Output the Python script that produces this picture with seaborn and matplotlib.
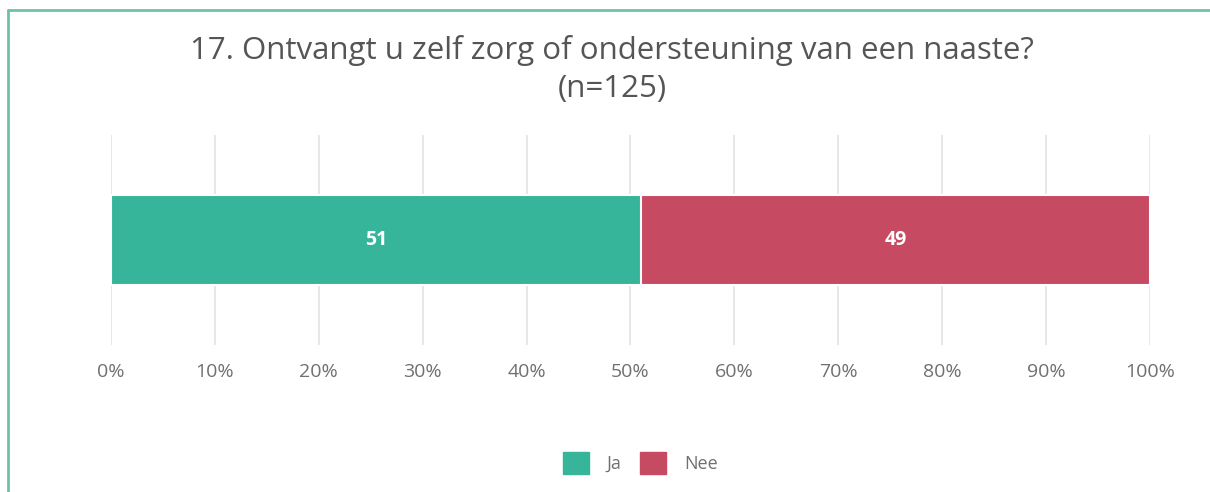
import matplotlib
matplotlib.use('Agg')
import matplotlib.pyplot as plt
from matplotlib.patches import Patch
from matplotlib.lines import Line2D
import seaborn as sns
import pandas as pd

# survey answers (percentages)
categories = ['Ja', 'Nee']
values = [51, 49]
colours = ['#36b59a', '#c64a62']
question = '17. Ontvangt u zelf zorg of ondersteuning van een naaste?\n(n=125)'
tick_vals = [0, 10, 20, 30, 40, 50, 60, 70, 80, 90, 100]

sns.set_theme(style='white')
plt.rcParams['font.family'] = ['Open Sans', 'DejaVu Sans']

# stacked bar: cumulative widths, drawn back to front
cum = pd.Series(values).cumsum()
df = pd.DataFrame({'row': [''] * len(categories), 'cat': categories,
                   'value': values, 'cum': cum})

fig = plt.figure(figsize=(12.1, 4.92), dpi=100)
ax = fig.add_axes([0.0917, 0.2988, 0.8587, 0.4268])

for i in reversed(range(len(categories))):
    sns.barplot(data=df.iloc[[i]], x='cum', y='row', orient='h',
                color=colours[i], width=0.424, edgecolor='white',
                linewidth=1.5, ax=ax, saturation=1)

start = 0
for v in values:
    ax.text(start + v / 2, 0, str(v), ha='center', va='center',
            color='white', fontsize=14, fontweight='bold')
    start += v

ax.set_xlim(0, 100)
ax.set_ylim(0.5, -0.5)
ax.set_xticks(tick_vals)
ax.set_xticklabels([f'{t}%' for t in tick_vals], color='#707070', fontsize=14)
ax.tick_params(axis='x', length=0, pad=13)
ax.set_yticks([])
ax.set_xlabel('')
ax.set_ylabel('')
ax.grid(axis='x', color='#e3e3e3', linewidth=1.2)
ax.set_axisbelow(True)
for s in ax.spines.values():
    s.set_visible(False)

fig.text(0.506, 0.858, question, ha='center', va='center',
         fontsize=22.5, color='#555555', linespacing=1.35)

handles = [Patch(facecolor=c, edgecolor=c) for c in colours]
fig.legend(handles, categories, loc='center', bbox_to_anchor=(0.529, 0.059),
           ncol=2, frameon=False, fontsize=13, handlelength=1.45,
           handleheight=1.45, columnspacing=1.0, handletextpad=1.0,
           labelcolor='#707070')

# green frame around the chart (cropped on right and bottom)
fig.add_artist(Line2D([0.0066, 1.0], [0.9797, 0.9797], color='#6cc3a9',
                      linewidth=2, transform=fig.transFigure))
fig.add_artist(Line2D([0.0066, 0.0066], [0.0, 0.9797], color='#6cc3a9',
                      linewidth=2, transform=fig.transFigure))

plt.savefig('out.png', dpi=100)
